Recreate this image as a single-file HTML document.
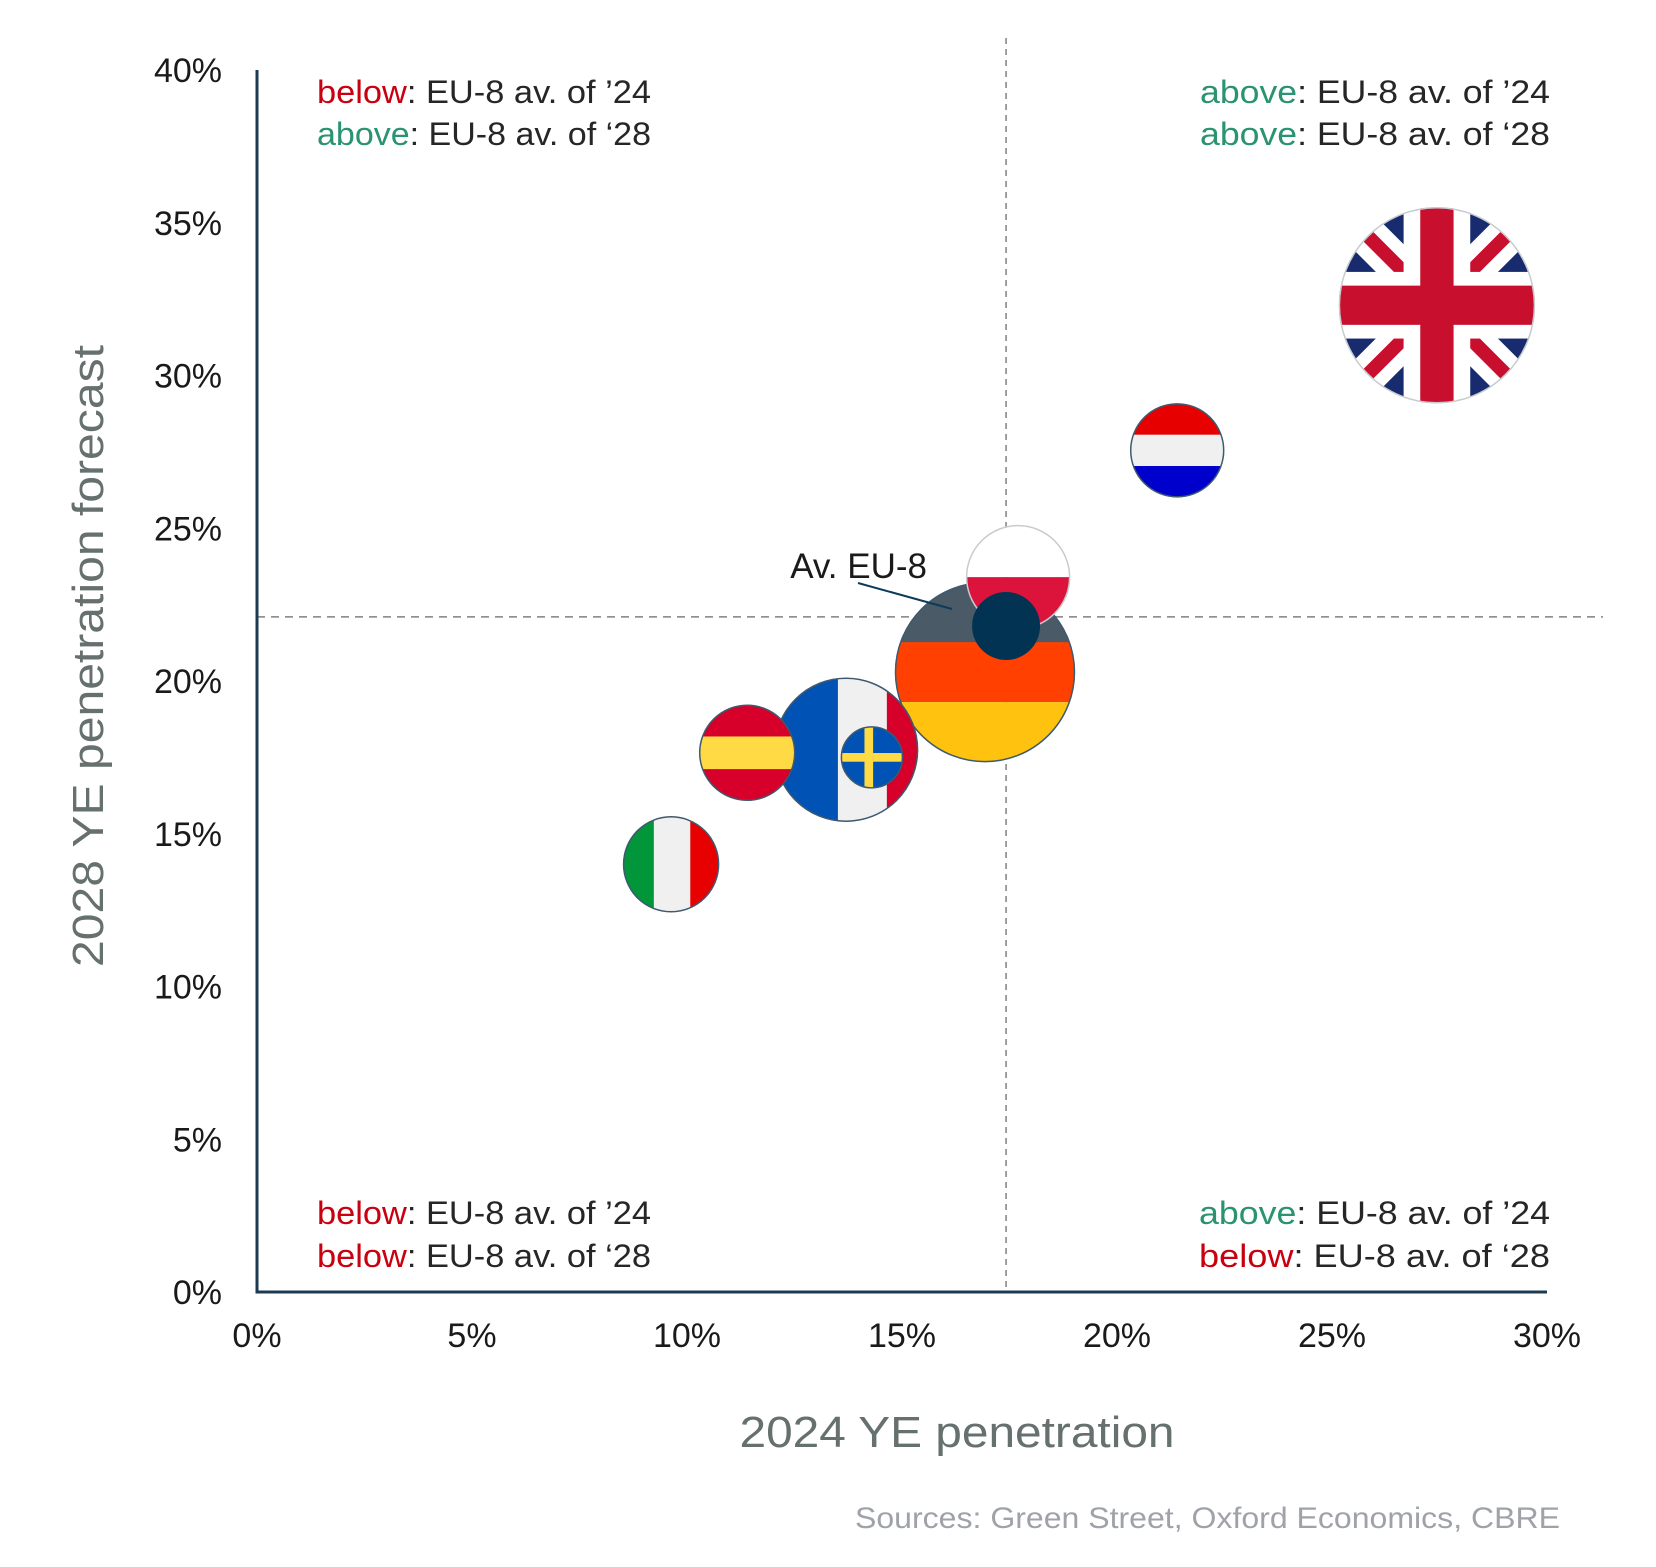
<!DOCTYPE html>
<html><head><meta charset="utf-8"><style>
html,body{margin:0;padding:0;background:#fff;}
svg{display:block;font-family:"Liberation Sans",sans-serif;}
</style></head><body>
<svg id="chart" width="1656" height="1567" viewBox="0 0 1656 1567" xmlns="http://www.w3.org/2000/svg">
<defs id="defs"></defs>
<g id="grid"></g>
<g id="axes"></g>
<g id="bubbles"></g>
<g font-size="32" fill="#262626">
<text x="317" y="103" textLength="334" lengthAdjust="spacingAndGlyphs"><tspan fill="#c8000f">below</tspan>: EU-8 av. of ’24</text>
<text x="317" y="145" textLength="334" lengthAdjust="spacingAndGlyphs"><tspan fill="#2a9371">above</tspan>: EU-8 av. of ‘28</text>
</g>
<g font-size="32" fill="#262626">
<text x="1200" y="103" textLength="350" lengthAdjust="spacingAndGlyphs"><tspan fill="#2a9371">above</tspan>: EU-8 av. of ’24</text>
<text x="1200" y="145" textLength="350" lengthAdjust="spacingAndGlyphs"><tspan fill="#2a9371">above</tspan>: EU-8 av. of ‘28</text>
</g>
<g font-size="32" fill="#262626">
<text x="317" y="1224" textLength="334" lengthAdjust="spacingAndGlyphs"><tspan fill="#c8000f">below</tspan>: EU-8 av. of ’24</text>
<text x="317" y="1267" textLength="334" lengthAdjust="spacingAndGlyphs"><tspan fill="#c8000f">below</tspan>: EU-8 av. of ‘28</text>
</g>
<g font-size="32" fill="#262626">
<text x="1199" y="1224" textLength="351" lengthAdjust="spacingAndGlyphs"><tspan fill="#2a9371">above</tspan>: EU-8 av. of ’24</text>
<text x="1199" y="1267" textLength="351" lengthAdjust="spacingAndGlyphs"><tspan fill="#c8000f">below</tspan>: EU-8 av. of ‘28</text>
</g>
<text x="957" y="1447" text-anchor="middle" font-size="44" fill="#66706e" textLength="435" lengthAdjust="spacingAndGlyphs">2024 YE penetration</text>
<text transform="translate(103,656) rotate(-90)" text-anchor="middle" font-size="44" fill="#66706e" textLength="622" lengthAdjust="spacingAndGlyphs">2028 YE penetration forecast</text>
<text x="1560" y="1528" text-anchor="end" font-size="30" fill="#9fa2a8" textLength="705" lengthAdjust="spacingAndGlyphs">Sources: Green Street, Oxford Economics, CBRE</text>
<g>
<text x="927" y="578" text-anchor="end" font-size="35" fill="#1a1a1a">Av. EU-8</text>
<line x1="858" y1="583" x2="952" y2="609" stroke="#0e3a5a" stroke-width="2"/>
</g>
</svg>
<script>
const countries=["DE","PL","AV","FR","ES","SE","IT","NL","UK"];
const pen2024=[16.93,17.7,17.42,13.7,11.4,14.3,9.63,21.4,27.44];
const pen2028=[20.29,23.4,21.8,17.75,17.65,17.5,14.0,27.55,32.3];
const bubbleSize=[90,52,34,72,48,31,48,47,98];
const avg2024=17.42, avg2028=22.1;
const xTicks=[0,5,10,15,20,25,30];
const yTicks=[0,5,10,15,20,25,30,35,40];
const X0=257,X1=1547,Y0=1292,Y1=70;
const sx=v=>X0+(v-0)/(30-0)*(X1-X0);
const sy=v=>Y0-(v-0)/(40-0)*(Y0-Y1);
const NS="http://www.w3.org/2000/svg";
function mk(tag,attrs,parent){const e=document.createElementNS(NS,tag);for(const k in attrs)e.setAttribute(k,attrs[k]);parent.appendChild(e);return e;}
const grid=document.getElementById('grid'),axes=document.getElementById('axes'),bub=document.getElementById('bubbles'),defs=document.getElementById('defs');
const vl=mk('line',{x1:sx(avg2024),y1:38,x2:sx(avg2024),y2:Y0,stroke:'#808080','stroke-width':1.5,'stroke-dasharray':'6,5'},grid);


const hl=mk('line',{x1:X0,y1:sy(avg2028),x2:1603,y2:sy(avg2028),stroke:'#808080','stroke-width':1.5,'stroke-dasharray':'8,6'},grid);


const ya=mk('line',{x1:X0,y1:Y1,x2:X0,y2:Y0+1.5,stroke:'#1e3a50','stroke-width':3},axes);


const xa=mk('line',{x1:X0-1.5,y1:Y0,x2:X1,y2:Y0,stroke:'#1e3a50','stroke-width':3},axes);


xTicks.forEach(t=>{const e=mk('text',{x:sx(t),y:1347,'text-anchor':'middle','font-size':34,fill:'#1a1a1a'},axes);e.textContent=t+'%';

});
yTicks.forEach(t=>{const e=mk('text',{x:222,y:sy(t)+12,'text-anchor':'end','font-size':34,fill:'#1a1a1a'},axes);e.textContent=t+'%';

});
function flag(code,cx,cy,r,g){
  const L=cx-r,T=cy-r,W=2*r;
  const rect=(x,y,w,h,f)=>mk('rect',{x:x,y:y,width:w,height:h,fill:f},g);
  if(code==='DE'){rect(L,T,W,W/3+4,'#4a5a66');rect(L,T+W/3,W,W/3,'#ff4000');rect(L,T+2*W/3,W,W/3,'#ffc20e');}
  else if(code==='PL'){rect(L,T,W,r,'#ffffff');rect(L,cy,W,r,'#dc143c');}
  else if(code==='AV'){rect(L,T,W,W,'#033352');}
  else if(code==='FR'){rect(L,T,W,W,'#d6002a');rect(L,T,W*0.45,W,'#0052b4');rect(L+W*0.45-1,T,W*0.34,W,'#f0f0f0');}
  else if(code==='ES'){rect(L,T,W,W,'#d6002a');rect(L,cy-r*0.34,W,r*0.68,'#ffda44');}
  else if(code==='SE'){rect(L,T,W,W,'#0052b4');rect(L+W*0.38,T,W*0.14,W,'#ffda44');rect(L,cy-W*0.07,W,W*0.14,'#ffda44');}
  else if(code==='IT'){rect(L,T,W,W,'#f0f0f0');rect(L,T,W*0.32,W,'#009639');rect(L+W*0.7,T,W*0.3,W,'#e60000');}
  else if(code==='NL'){rect(L,T,W,W/3+1,'#e60000');rect(L,T+W/3,W,W/3,'#f0f0f0');rect(L,T+2*W/3,W,W/3,'#0000cc');}
  else if(code==='UK'){
    rect(L,T,W,W,'#172b6e');
    const d=(x1,y1,x2,y2,w,c)=>mk('line',{x1:x1,y1:y1,x2:x2,y2:y2,stroke:c,'stroke-width':w},g);
    d(L,T,L+W,T+W,W*0.2,'#fff');d(L+W,T,L,T+W,W*0.2,'#fff');
    d(L,T,L+W,T+W,W*0.07,'#c8102e');d(L+W,T,L,T+W,W*0.07,'#c8102e');
    rect(cx-W*0.17,T,W*0.34,W,'#fff');rect(L,cy-W*0.17,W,W*0.34,'#fff');
    rect(cx-W*0.085,T,W*0.17,W,'#c8102e');rect(L,cy-W*0.1,W,W*0.2,'#c8102e');
  }
}
countries.forEach((c,i)=>{
  const cx=sx(pen2024[i]),cy=sy(pen2028[i]),r=bubbleSize[i];
  const cp=mk('clipPath',{id:'clip'+c},defs);
  mk('circle',{cx:cx,cy:cy,r:r},cp);
  const g=mk('g',{'clip-path':'url(#clip'+c+')'},bub);
  
  
  flag(c,cx,cy,r,g);
  if(c!=='AV'){const o=mk('circle',{cx:cx,cy:cy,r:r-0.5,fill:'none',stroke:(c==='UK'||c==='PL')?'#c8ccd0':'#3d5a70','stroke-width':1.5},bub);
  
  }
});
</script>
</body></html>
